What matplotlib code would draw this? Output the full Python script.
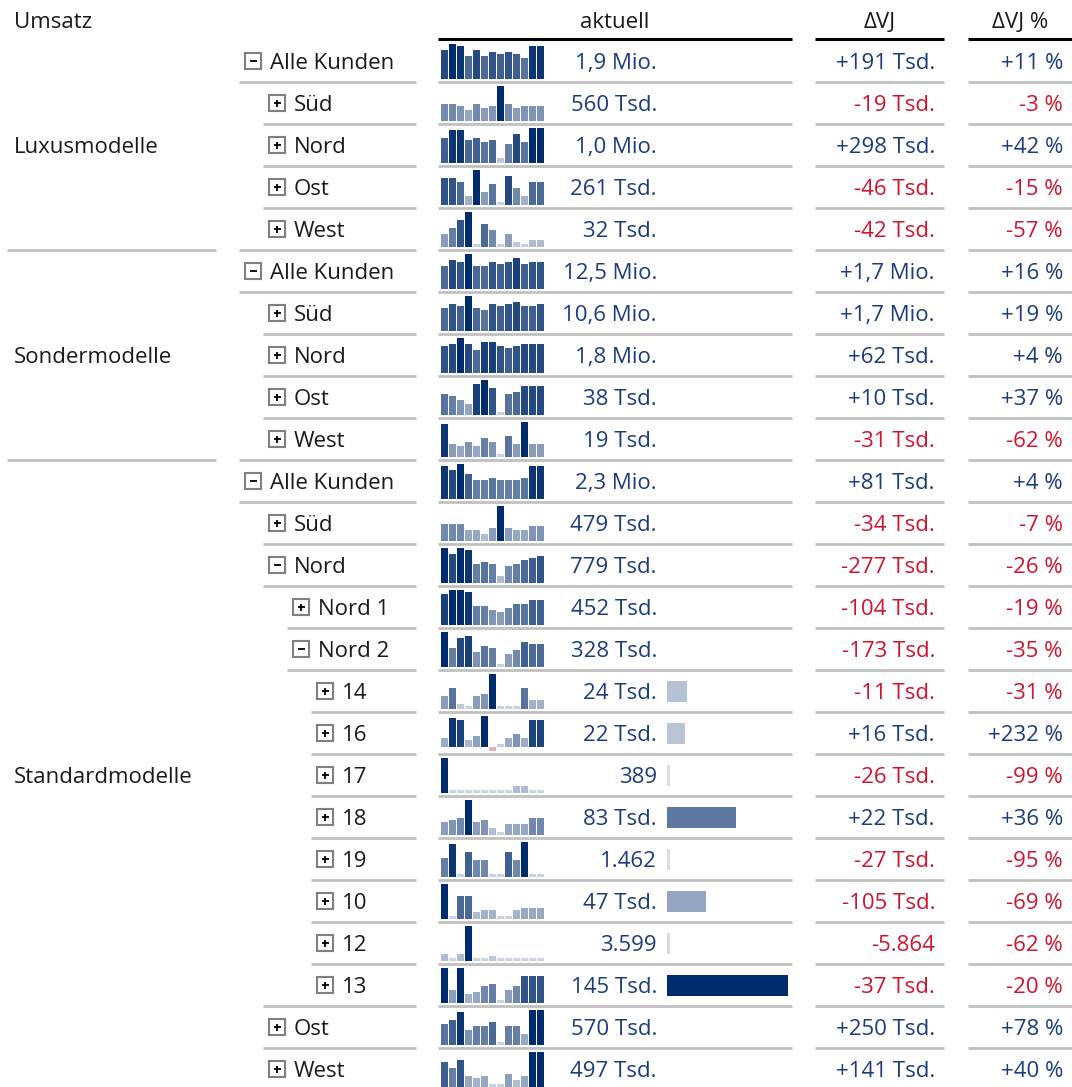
import matplotlib.pyplot as plt
import numpy as np
from matplotlib.colors import LinearSegmentedColormap
from matplotlib.patches import Rectangle

plt.rcParams["font.family"] = ["Open Sans", "DejaVu Sans"]

# ---------------------------------------------------------------- data
groups = ["Luxusmodelle", "Sondermodelle", "Standardmodelle"]
group_sizes = [5, 5, 15]

labels = [
    "Alle Kunden", "Süd", "Nord", "Ost", "West",
    "Alle Kunden", "Süd", "Nord", "Ost", "West",
    "Alle Kunden", "Süd", "Nord", "Nord 1", "Nord 2",
    "14", "16", "17", "18", "19", "10", "12", "13",
    "Ost", "West",
]
levels = [0, 1, 1, 1, 1,
          0, 1, 1, 1, 1,
          0, 1, 1, 2, 2, 3, 3, 3, 3, 3, 3, 3, 3, 1, 1]
expanded = [True, False, False, False, False,
            True, False, False, False, False,
            True, False, True, False, True,
            False, False, False, False, False, False, False, False, False, False]

aktuell = [
    "1,9 Mio.", "560 Tsd.", "1,0 Mio.", "261 Tsd.", "32 Tsd.",
    "12,5 Mio.", "10,6 Mio.", "1,8 Mio.", "38 Tsd.", "19 Tsd.",
    "2,3 Mio.", "479 Tsd.", "779 Tsd.", "452 Tsd.", "328 Tsd.",
    "24 Tsd.", "22 Tsd.", "389", "83 Tsd.", "1.462", "47 Tsd.", "3.599", "145 Tsd.",
    "570 Tsd.", "497 Tsd.",
]
delta_vj = [
    "+191 Tsd.", "-19 Tsd.", "+298 Tsd.", "-46 Tsd.", "-42 Tsd.",
    "+1,7 Mio.", "+1,7 Mio.", "+62 Tsd.", "+10 Tsd.", "-31 Tsd.",
    "+81 Tsd.", "-34 Tsd.", "-277 Tsd.", "-104 Tsd.", "-173 Tsd.",
    "-11 Tsd.", "+16 Tsd.", "-26 Tsd.", "+22 Tsd.", "-27 Tsd.", "-105 Tsd.", "-5.864", "-37 Tsd.",
    "+250 Tsd.", "+141 Tsd.",
]
delta_vj_pct = [
    "+11 %", "-3 %", "+42 %", "-15 %", "-57 %",
    "+16 %", "+19 %", "+4 %", "+37 %", "-62 %",
    "+4 %", "-7 %", "-26 %", "-19 %", "-35 %",
    "-31 %", "+232 %", "-99 %", "+36 %", "-95 %", "-69 %", "-62 %", "-20 %",
    "+78 %", "+40 %",
]

# monthly trend per row (13 periods, relative units)
trend = [
    [83, 100, 94, 65, 83, 65, 77, 71, 77, 71, 60, 94, 94],
    [48, 48, 42, 31, 48, 37, 42, 100, 48, 37, 42, 42, 42],
    [71, 94, 94, 66, 71, 60, 66, 14, 54, 83, 60, 100, 100],
    [77, 77, 65, 25, 100, 37, 60, 8, 83, 48, 25, 65, 65],
    [37, 54, 77, 100, 8, 65, 48, 8, 37, 13, 8, 19, 19],
    [65, 83, 77, 100, 65, 65, 77, 71, 77, 88, 71, 77, 77],
    [65, 77, 71, 100, 65, 60, 77, 71, 77, 83, 71, 71, 77],
    [77, 83, 100, 83, 65, 88, 88, 77, 71, 77, 83, 83, 83],
    [60, 54, 42, 31, 88, 100, 77, 8, 60, 65, 83, 83, 83],
    [94, 37, 31, 42, 31, 54, 42, 8, 60, 37, 100, 37, 37],
    [94, 83, 100, 71, 54, 54, 60, 54, 54, 54, 60, 94, 94],
    [48, 48, 48, 31, 31, 19, 37, 100, 37, 31, 31, 42, 42],
    [100, 83, 100, 94, 54, 60, 54, 19, 48, 54, 65, 71, 77],
    [88, 100, 100, 94, 54, 54, 42, 37, 48, 60, 60, 71, 71],
    [100, 54, 83, 88, 42, 60, 54, 8, 37, 48, 71, 65, 65],
    [37, 60, 13, 8, 37, 42, 100, 8, 8, 8, 60, 25, 25],
    [26, 86, 80, 20, 32, 92, -12, 8, 26, 38, 26, 80, 80],
    [104, 8, 8, 8, 8, 8, 8, 8, 8, 20, 20, 8, 8],
    [38, 44, 50, 104, 38, 44, 20, 8, 32, 32, 32, 50, 50],
    [56, 98, 8, 74, 50, 50, 8, 8, 74, 50, 104, 8, 8],
    [104, 8, 68, 68, 20, 26, 26, 8, 8, 26, 32, 32, 32],
    [20, 8, 20, 104, 8, 8, 14, 8, 8, 8, 8, 8, 8],
    [104, 38, 104, 26, 32, 50, 56, 8, 38, 50, 80, 80, 80],
    [62, 74, 98, 44, 56, 56, 68, 8, 56, 56, 32, 104, 104],
    [74, 56, 80, 32, 26, 32, 8, 8, 38, 20, 32, 104, 104],
]

# horizontal bars for the customers under "Nord 2" (Tsd.)
hbar_first_row = 15
hbar_values = [24, 22, 0.389, 83, 1.462, 47, 3.599, 145]

# ---------------------------------------------------------------- layout
W, H = 1072, 1087
ROW0, ROW_H = 61, 42
FS = 16
TEXT = "#1a1a1a"
BLUE = "#1c3c7e"
RED = "#d0142f"
GRID = "#c0c0c0"
NEG = "#e8b0ba"
cmap = LinearSegmentedColormap.from_list("umsatz", ["#d9dfe9", "#002b6c"])


def fig_rect(x0, y0, x1, y1):
    return [x0 / W, 1 - y1 / H, (x1 - x0) / W, (y1 - y0) / H]


def row_y(i):
    return ROW0 + ROW_H * i


def draw_icon(ax, x, y, minus):
    ax.add_patch(Rectangle((x, y - 8), 16, 16, facecolor="white",
                           edgecolor="#808080", linewidth=1.5))
    ax.plot([x + 4.5, x + 11.5], [y, y], color="black", linewidth=1.3,
            solid_capstyle="butt")
    if not minus:
        ax.plot([x + 8, x + 8], [y - 3.5, y + 3.5], color="black", linewidth=1.3,
                solid_capstyle="butt")


fig = plt.figure(figsize=(W / 100, H / 100), dpi=100)
ax = fig.add_axes([0, 0, 1, 1])
ax.set_xlim(0, W)
ax.set_ylim(H, 0)
ax.axis("off")

# header
ax.text(14, 28, "Umsatz", fontsize=FS, color=TEXT, va="baseline")
ax.text(615, 28, "aktuell", fontsize=FS, color=TEXT, va="baseline", ha="center")
ax.text(880, 28, "ΔVJ", fontsize=FS, color=TEXT, va="baseline", ha="center")
ax.text(1020, 28, "ΔVJ %", fontsize=FS, color=TEXT, va="baseline", ha="center")
for x0, x1 in [(438, 792), (815, 944), (968, W)]:
    ax.plot([x0, x1], [39, 39], color="black", linewidth=2.2, solid_capstyle="butt")

# group labels and separators
start = 0
for g, size in zip(groups, group_sizes):
    mid = (row_y(start) + row_y(start + size - 1)) / 2
    ax.text(14, mid + 8, g, fontsize=FS, color=TEXT, va="baseline")
    end = start + size
    if end < len(labels):
        yb = row_y(end - 1) + ROW_H / 2
        ax.plot([7, 216], [yb, yb], color=GRID, linewidth=2.0, solid_capstyle="butt")
    start = end

n = len(labels)
for i in range(n):
    y = row_y(i)
    xb = 245 + 24 * levels[i]
    draw_icon(ax, xb, y, expanded[i])
    ax.text(xb + 25, y + 8, labels[i], fontsize=FS, color=TEXT, va="baseline")

    ax.text(657, y + 8, aktuell[i], fontsize=FS, color=BLUE, va="baseline", ha="right")
    c = RED if delta_vj[i].startswith("-") else BLUE
    ax.text(935, y + 8, delta_vj[i], fontsize=FS, color=c, va="baseline", ha="right")
    c = RED if delta_vj_pct[i].startswith("-") else BLUE
    ax.text(1063, y + 8, delta_vj_pct[i], fontsize=FS, color=c, va="baseline", ha="right")

    # row separators
    yb = y + ROW_H / 2
    nxt = levels[i + 1] if i + 1 < n else levels[i]
    xl = 239 + 24 * min(levels[i], nxt)
    for x0, x1 in [(xl, 416), (438, 792), (815, 944), (968, W)]:
        ax.plot([x0, x1], [yb, yb], color=GRID, linewidth=2.0, solid_capstyle="butt")

    # sparkline
    vals = np.array(trend[i], dtype=float)
    lo, hi = min(0, vals.min()), vals.max()
    sax = fig.add_axes(fig_rect(441, y - 17, 545, y + 18))
    colors = [cmap(v / hi) if v >= 0 else NEG for v in vals]
    sax.bar(np.arange(len(vals)), vals, width=0.875, align="edge", color=colors)
    sax.set_xlim(0, len(vals))
    sax.set_ylim(lo, hi)
    sax.axis("off")

# horizontal bars
hv = np.array(hbar_values)
top = row_y(hbar_first_row) - ROW_H / 2
bot = row_y(hbar_first_row + len(hv) - 1) + ROW_H / 2
hax = fig.add_axes(fig_rect(667, top, 788, bot))
min_w = 3 / 121 * hv.max()
hax.barh(np.arange(len(hv)), np.maximum(hv, min_w), height=0.5,
         color=[cmap(v / hv.max()) for v in hv])
hax.set_xlim(0, hv.max())
hax.set_ylim(len(hv) - 0.5, -0.5)
hax.axis("off")

fig.savefig("out.png", dpi=100)
